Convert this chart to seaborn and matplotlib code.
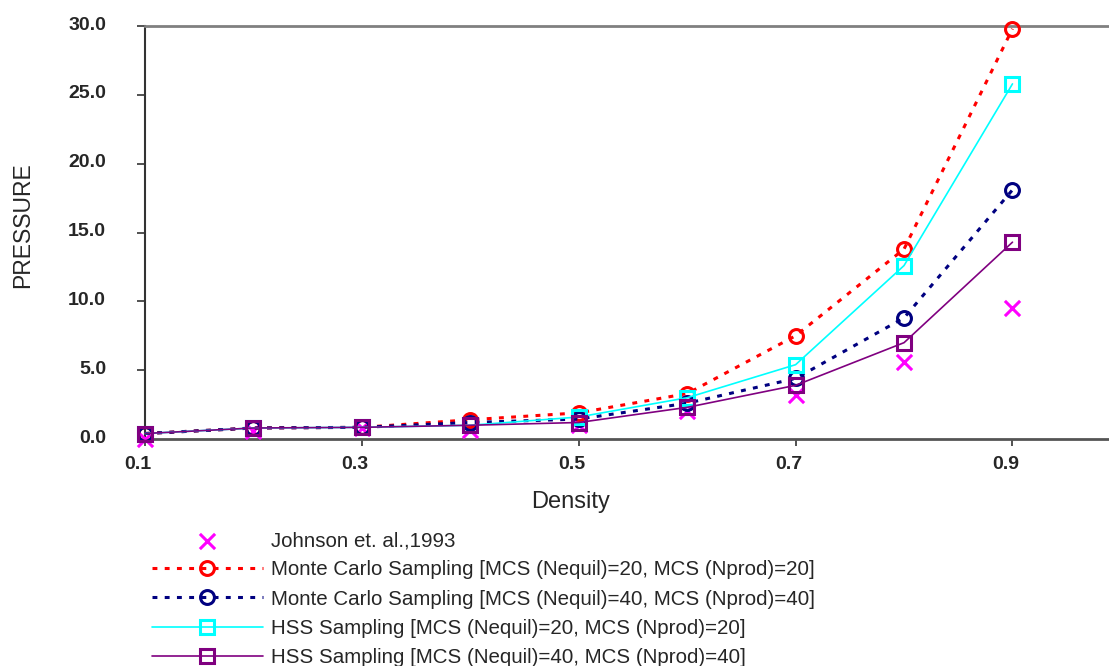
import matplotlib
matplotlib.use("Agg")
import matplotlib.pyplot as plt
import matplotlib.transforms as mtransforms
import seaborn as sns
import pandas as pd

# ---- data ----
density = [0.1, 0.2, 0.3, 0.4, 0.5, 0.6, 0.7, 0.8, 0.9]
johnson = [0.0, 0.6, 0.8, 0.65, 1.0, 2.0, 3.2, 5.6, 9.5]
mc20 = [0.4, 0.8, 0.85, 1.4, 1.9, 3.3, 7.5, 13.8, 29.8]
mc40 = [0.4, 0.8, 0.85, 1.2, 1.45, 2.6, 4.4, 8.8, 18.1]
hss20 = [0.4, 0.8, 0.85, 1.0, 1.6, 3.0, 5.4, 12.6, 25.8]
hss40 = [0.4, 0.8, 0.85, 1.0, 1.2, 2.3, 3.9, 7.0, 14.3]

labels = [
    "Johnson et. al.,1993",
    "Monte Carlo Sampling [MCS (Nequil)=20, MCS (Nprod)=20]",
    "Monte Carlo Sampling [MCS (Nequil)=40, MCS (Nprod)=40]",
    "HSS Sampling [MCS (Nequil)=20, MCS (Nprod)=20]",
    "HSS Sampling [MCS (Nequil)=40, MCS (Nprod)=40]",
]
x_ticks = [0.1, 0.3, 0.5, 0.7, 0.9]
x_ticklabels = ["0.1", "0.3", "0.5", "0.7", "0.9"]
y_ticks = [0, 5, 10, 15, 20, 25, 30]
y_ticklabels = ["0.0", "5.0", "10.0", "15.0", "20.0", "25.0", "30.0"]

sns.set_theme(style="white")
plt.rcParams["font.family"] = ["Liberation Sans", "DejaVu Sans"]

fig = plt.figure(figsize=(11.09, 6.66), dpi=100)
ax = fig.add_axes([0.1307, 0.3408, 0.8693, 0.6201])

sns.scatterplot(x=density, y=johnson, ax=ax, marker="x", color="#FF00FF",
                s=120, linewidth=2.2, label=labels[0], zorder=3, clip_on=False)

sns.lineplot(x=density, y=mc20, ax=ax, color="#FF0000", linewidth=2.2,
             linestyle=(0, (1.6, 2.4)), marker="o", markersize=10,
             markerfacecolor="none", markeredgecolor="#FF0000", markeredgewidth=2.2,
             label=labels[1], zorder=4, clip_on=False)
sns.lineplot(x=density, y=mc40, ax=ax, color="#000080", linewidth=2.2,
             linestyle=(0, (1.6, 2.4)), marker="o", markersize=10,
             markerfacecolor="none", markeredgecolor="#000080", markeredgewidth=2.2,
             label=labels[2], zorder=4, clip_on=False)
sns.lineplot(x=density, y=hss20, ax=ax, color="#00FFFF", linewidth=1.2,
             linestyle="-", marker="s", markersize=10,
             markerfacecolor="none", markeredgecolor="#00FFFF", markeredgewidth=2.2,
             label=labels[3], zorder=5, clip_on=False)
sns.lineplot(x=density, y=hss40, ax=ax, color="#800080", linewidth=1.2,
             linestyle="-", marker="s", markersize=10,
             markerfacecolor="none", markeredgecolor="#800080", markeredgewidth=2.2,
             label=labels[4], zorder=6, clip_on=False)

ax.set_xlim(0.1, 0.989)
ax.set_ylim(0, 30)
ax.set_xticks(x_ticks)
ax.set_xticklabels(x_ticklabels)
ax.set_yticks(y_ticks)
ax.set_yticklabels(y_ticklabels)

ax.tick_params(axis="x", direction="out", length=5, width=1.2, color="#333333",
               pad=7, bottom=True)
ax.tick_params(axis="y", direction="out", length=6, width=1.2, color="#333333",
               pad=22, left=True)

xoff = mtransforms.ScaledTranslation(-7 / 100, 0, fig.dpi_scale_trans)
yoff = mtransforms.ScaledTranslation(0, 3 / 100, fig.dpi_scale_trans)
for lab in ax.get_xticklabels():
    lab.set_fontweight("bold")
    lab.set_fontsize(14)
    lab.set_transform(lab.get_transform() + xoff)
for lab in ax.get_yticklabels():
    lab.set_fontweight("bold")
    lab.set_fontsize(14)
    lab.set_transform(lab.get_transform() + yoff)

ax.set_xlabel("Density", fontsize=17)
ax.xaxis.set_label_coords(0.441, -0.125)
ax.set_ylabel("PRESSURE", fontsize=16.5)
ax.yaxis.set_label_coords(-0.115, 0.518)

ax.spines["right"].set_visible(False)
ax.spines["top"].set_color("#808080")
ax.spines["top"].set_linewidth(2)
ax.spines["left"].set_color("#333333")
ax.spines["left"].set_linewidth(1.5)
ax.spines["bottom"].set_color("#555555")
ax.spines["bottom"].set_linewidth(2)

handles, labs = ax.get_legend_handles_labels()
ax.get_legend().remove()
fig.legend(handles, labs, loc="upper left", bbox_to_anchor=(0.137, 0.2027),
           frameon=False, fontsize=14.8, handlelength=5.4, handletextpad=0.4,
           labelspacing=0.5, borderpad=0, borderaxespad=0)

fig.savefig("out.png", dpi=100, facecolor="white")
